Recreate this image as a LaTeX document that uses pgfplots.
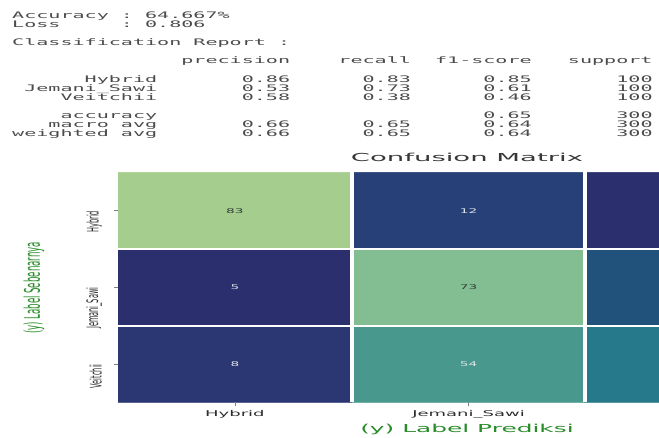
\documentclass[border=0pt]{standalone}
\usepackage{pgfplots}
\pgfplotsset{compat=1.18}
\usepackage{fontspec}
\setmainfont{DejaVu Sans}
\setmonofont{DejaVu Sans Mono}
\usepackage{graphicx}
\definecolor{txtgray}{RGB}{75,75,75}
\definecolor{titlegray}{RGB}{55,55,55}
\definecolor{lblgreen}{RGB}{40,140,40}
\definecolor{tickgray}{RGB}{45,45,45}
\newcommand{\mono}[2]{\node[anchor=base west,inner sep=0pt,text=txtgray] at (12pt,-#1pt) {\scalebox{2.23}[1]{\fontsize{9}{10}\ttfamily #2}};}
\begin{document}
\begin{tikzpicture}
\path[use as bounding box] (0pt,0pt) rectangle (659pt,-437pt);
% report text
\mono{18}{Accuracy~:~64.667\%}
\mono{27.5}{Loss~~~~~:~0.806}
\mono{45.5}{Classification~Report~:}
\mono{63.5}{~~~~~~~~~~~~~~precision~~~~recall~~f1-score~~~support}
\mono{82}{~~~~~~Hybrid~~~~~~~0.86~~~~~~0.83~~~~~~0.85~~~~~~~100}
\mono{91}{~Jemani\_Sawi~~~~~~~0.53~~~~~~0.73~~~~~~0.61~~~~~~~100}
\mono{100}{~~~~Veitchii~~~~~~~0.58~~~~~~0.38~~~~~~0.46~~~~~~~100}
\mono{118.5}{~~~~accuracy~~~~~~~~~~~~~~~~~~~~~~~~~~~0.65~~~~~~~300}
\mono{127.5}{~~~macro~avg~~~~~~~0.66~~~~~~0.65~~~~~~0.64~~~~~~~300}
\mono{136.5}{weighted~avg~~~~~~~0.66~~~~~~0.65~~~~~~0.64~~~~~~~300}
% titles
\node[anchor=base,inner sep=0pt,text=titlegray] at (467pt,-161pt) {\scalebox{2.5}[1]{\fontsize{11}{13}\selectfont Confusion Matrix}};
\node[anchor=base,inner sep=0pt,text=lblgreen] at (467pt,-432pt) {\scalebox{2.26}[1]{\fontsize{11}{13}\selectfont (y) Label Prediksi}};
\node[rotate=90,anchor=center,inner sep=0pt,text=lblgreen] at (34pt,-288pt) {\scalebox{1}[2.5]{\fontsize{8.6}{10}\selectfont (y) Label Sebenarnya}};
\begin{axis}[
  at={(118pt,-402.4pt)}, anchor=south west,
  scale only axis, width=541pt, height=230.1pt,
  xmin=-0.5, xmax=1.815, ymin=-0.5, ymax=2.5,
  axis line style={draw=none},
  /pgf/number format/assume math mode=true,
  colormap={crestr}{rgb255(0pt)=(44,47,110) rgb255(3pt)=(43,55,114) rgb255(7pt)=(39,65,120) rgb255(17pt)=(33,82,124) rgb255(33pt)=(38,121,138) rgb255(49pt)=(73,152,142) rgb255(68pt)=(130,190,145) rgb255(78pt)=(165,206,142)},
  point meta min=5, point meta max=83,
  xtick={0,1}, ytick={0,1,2},
  xticklabels={\scalebox{2.25}[1]{Hybrid},\scalebox{2.25}[1]{Jemani\_Sawi}},
  yticklabels={\scalebox{1}[2.4]{Veitchii},\scalebox{1}[2.4]{Jemani\_Sawi},\scalebox{1}[2.4]{Hybrid}},
  xticklabel style={font=\fontsize{8}{9}\selectfont, text=tickgray, inner sep=0pt, anchor=north},
  yticklabel style={font=\fontsize{6.6}{8}\selectfont, text=tickgray, inner sep=0pt, rotate=90, anchor=south east},
  xticklabel shift=4pt, yticklabel shift=12pt,
  tick align=outside, major tick length=4pt,
  tick style={gray, line width=0.6pt},
  xtick pos=bottom, ytick pos=left,
  minor xtick={0.5,1.5}, minor ytick={0.5,1.5},
  minor tick length=0pt,
  xminorgrids, yminorgrids,
  minor x grid style={white, line width=4pt},
  minor y grid style={white, line width=1.8pt},
  axis on top,
]
\addplot[matrix plot*, mesh/cols=3, point meta=explicit] coordinates {
  (0,0) [8]  (1,0) [54] (2,0) [38]
  (0,1) [5]  (1,1) [73] (2,1) [22]
  (0,2) [83] (1,2) [12] (2,2) [5]
};
% annotations on light cells
\addplot[only marks, mark=none, point meta=explicit,
  nodes near coords={\scalebox{2.1}[1]{\pgfmathprintnumber{\pgfplotspointmeta}}},
  every node near coord/.append style={anchor=center, font=\fontsize{6.5}{7}\selectfont, text={rgb,255:red,50;green,60;blue,55}}]
  coordinates {(0,2) [83] (1,1) [73]};
% annotations on dark cells
\addplot[only marks, mark=none, point meta=explicit,
  nodes near coords={\scalebox{2.1}[1]{\pgfmathprintnumber{\pgfplotspointmeta}}},
  every node near coord/.append style={anchor=center, font=\fontsize{6.5}{7}\selectfont, text={rgb,255:red,225;green,230;blue,235}}]
  coordinates {(1,2) [12] (0,1) [5] (0,0) [8] (1,0) [54]};
\end{axis}
\end{tikzpicture}
\end{document}
